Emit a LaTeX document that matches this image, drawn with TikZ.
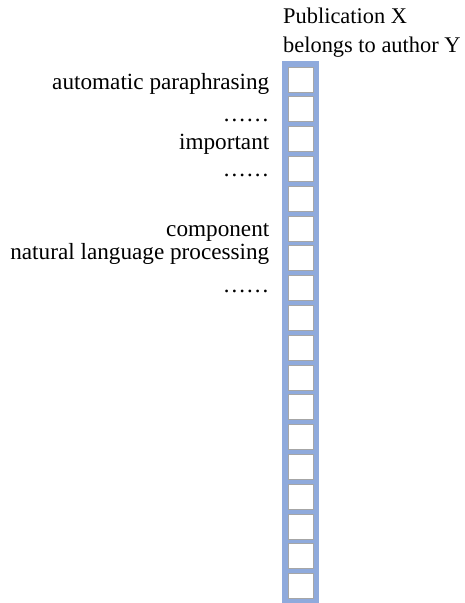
\documentclass[tikz,border=0pt]{standalone}
\usepackage{fontspec}
\setmainfont{Liberation Serif}
\definecolor{colblue}{HTML}{8FAADC}
\definecolor{boxgray}{HTML}{A6A6A6}
\begin{document}
\begin{tikzpicture}[x=1pt,y=-1pt,
  lbl/.style={font=\fontsize{23.2}{27}\selectfont, inner sep=0pt, anchor=base east},
  ttl/.style={font=\fontsize{22.4}{26}\selectfont, inner sep=0pt, anchor=base west},
  cell/.style={draw=boxgray, line width=0.6pt, fill=white, minimum width=25.5pt, minimum height=25pt, inner sep=0pt, anchor=north west},
  column/.style={fill=colblue, draw=none, minimum width=36.5pt, minimum height=542pt, inner sep=0pt, anchor=north west}]
\useasboundingbox (0,0) rectangle (464,603);
\node[column] (col) at (282,61) {};
\foreach \i in {1,...,18}{
  \node[cell] (b\i) at (287.8,{66.6+(\i-1)*29.8}) {};
}
\node[ttl] (t1) at (283,23) {Publication X};
\node[ttl] (t2) at (283,52) {belongs to author Y};
\node[lbl] (l1) at (269.5,89.5) {automatic paraphrasing};
\node[lbl] (l2) at (269.5,121) {……};
\node[lbl] (l3) at (269.5,149) {important};
\node[lbl] (l4) at (269.5,176) {……};
\node[lbl] (l5) at (269.5,236) {component};
\node[lbl] (l6) at (269.5,259) {natural language processing};
\node[lbl] (l7) at (269.5,292) {……};
\end{tikzpicture}
\end{document}
